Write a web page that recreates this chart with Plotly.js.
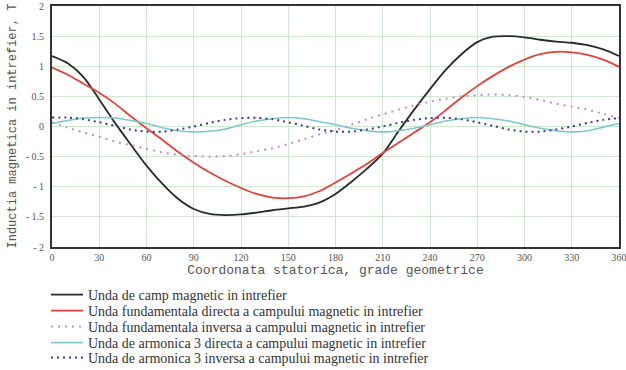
<!DOCTYPE html>
<html>
<head>
<meta charset="utf-8">
<script src="https://cdn.plot.ly/plotly-3.0.1.min.js"></script>
<style>
html,body{margin:0;padding:0;background:#fff;}
#chart{width:626px;height:370px;}
</style>
</head>
<body>
<div id="chart"></div>
<script>
// Angle (degrees) sampled every 10°
const angle = [0,10,20,30,40,50,60,70,80,90,100,110,120,130,140,150,160,170,180,190,200,210,220,230,240,250,260,270,280,290,300,310,320,330,340,350,360];

// Total air-gap field
const campTotal = [1.17,1.05,0.82,0.45,0.06,-0.30,-0.65,-0.95,-1.20,-1.37,-1.45,-1.47,-1.46,-1.43,-1.39,-1.36,-1.33,-1.26,-1.12,-0.92,-0.70,-0.45,-0.08,0.28,0.62,0.94,1.20,1.40,1.49,1.50,1.48,1.44,1.41,1.39,1.35,1.28,1.17];

// Fundamental, direct
const fundDirecta = [0.98,0.86,0.71,0.56,0.38,0.17,-0.03,-0.22,-0.42,-0.60,-0.76,-0.90,-1.02,-1.12,-1.18,-1.19,-1.16,-1.07,-0.93,-0.78,-0.62,-0.44,-0.27,-0.10,0.07,0.27,0.48,0.67,0.84,0.99,1.11,1.20,1.24,1.23,1.19,1.11,0.99];

// Fundamental, inverse
const fundInversa = [0.07,-0.02,-0.10,-0.17,-0.25,-0.31,-0.37,-0.43,-0.47,-0.49,-0.50,-0.49,-0.46,-0.41,-0.36,-0.29,-0.21,-0.13,-0.06,0.03,0.12,0.20,0.28,0.35,0.41,0.46,0.50,0.52,0.53,0.52,0.49,0.44,0.38,0.33,0.28,0.21,0.14];

// 3rd harmonic, direct
const arm3Directa = [0.05,0.10,0.14,0.15,0.14,0.10,0.05,-0.02,-0.07,-0.09,-0.08,-0.04,0.03,0.09,0.13,0.15,0.13,0.08,0.03,-0.03,-0.07,-0.09,-0.07,-0.03,0.03,0.09,0.13,0.15,0.13,0.09,0.03,-0.03,-0.07,-0.09,-0.07,-0.01,0.05];

// 3rd harmonic, inverse
const arm3Inversa = [0.148,0.147,0.12,0.07,0.01,-0.05,-0.085,-0.085,-0.05,0.00,0.06,0.11,0.14,0.145,0.12,0.07,0.01,-0.05,-0.085,-0.085,-0.05,0.00,0.06,0.11,0.14,0.145,0.12,0.07,0.01,-0.05,-0.085,-0.085,-0.05,0.00,0.06,0.11,0.14];

const seriesNames = [
  "Unda de camp magnetic in intrefier",
  "Unda fundamentala directa a campului magnetic in intrefier",
  "Unda fundamentala inversa a campului magnetic in intrefier",
  "Unda de armonica 3 directa a campului magnetic in intrefier",
  "Unda de armonica 3 inversa a campului magnetic in intrefier"
];

const xTicks = [0,30,60,90,120,150,180,210,240,270,300,330,360];
const yTicks = [-2,-1.5,-1,-0.5,0,0.5,1,1.5,2];
const yTickText = ["- 2","- 1.5","- 1","- 0.5","0","0.5","1","1.5","2"];
const xTitle = "Coordonata statorica, grade geometrice";
const yTitle = "Inductia magnetica in intrefier, T";

const legendFont = {family:"Liberation Serif, Times New Roman, serif", size:14, color:"#333"};
const legendRowsY = [295, 311, 327, 343, 358];

function mk(y, name, color, dash, width, lg){
  return {x: angle, y: y, name: name, type:"scatter", mode:"lines",
    line:{color:color, width:width, dash:dash, shape:"spline", smoothing:0.8},
    legend: lg};
}

const traces = [
  mk(campTotal, seriesNames[0], "#2a2a2a", "solid", 1.8, "legend"),
  mk(fundDirecta, seriesNames[1], "#e2413c", "solid", 1.8, "legend2"),
  mk(fundInversa, seriesNames[2], "#c98ac9", "2px,5px", 2, "legend3"),
  mk(arm3Directa, seriesNames[3], "#7cc8cc", "solid", 1.6, "legend4"),
  mk(arm3Inversa, seriesNames[4], "#3c3c8c", "2px,4px", 2, "legend5")
];

function lg(i){
  return {xref:"container", yref:"container", x: 46/626, y: 1 - legendRowsY[i]/370,
    xanchor:"left", yanchor:"middle", bgcolor:"rgba(0,0,0,0)", borderwidth:0,
    font: legendFont, tracegroupgap:0, itemwidth:32};
}

const layout = {
  width:626, height:370,
  margin:{l:52, r:7, t:6, b:123, pad:0, autoexpand:false},
  paper_bgcolor:"#fff", plot_bgcolor:"#fff",
  showlegend:true,
  legend: lg(0), legend2: lg(1), legend3: lg(2), legend4: lg(3), legend5: lg(4),
  xaxis:{
    range:[0,360], tickvals:xTicks, ticktext:xTicks.map(String),
    showgrid:true, gridcolor:"#cfe8cf", gridwidth:1,
    zeroline:false, showline:true, linecolor:"#333", linewidth:2, mirror:true,
    ticks:"", ticklabeloverflow:"allow",
    tickfont:{family:"Liberation Serif, Times New Roman, serif", size:10, color:"#555"},
    title:{text:xTitle, standoff:2,
      font:{family:"Liberation Mono, Courier New, monospace", size:13, color:"#555"}},
    automargin:false, fixedrange:true
  },
  yaxis:{
    range:[-2,2], tickvals:yTicks, ticktext:yTickText,
    showgrid:true, gridcolor:"#cfe8cf", gridwidth:1,
    zeroline:false, showline:true, linecolor:"#333", linewidth:2, mirror:true,
    ticks:"", ticklabelstandoff:4,
    tickfont:{family:"Liberation Serif, Times New Roman, serif", size:10, color:"#555"},
    automargin:false, fixedrange:true
  },
  annotations:[{
    text: yTitle, xref:"paper", yref:"paper", x:(12-52)/567, y:0.5,
    xanchor:"center", yanchor:"middle", textangle:-90, showarrow:false,
    font:{family:"Liberation Mono, Courier New, monospace", size:12, color:"#555"}
  }]
};

Plotly.newPlot("chart", traces, layout, {staticPlot:true, displayModeBar:false});
</script>
</body>
</html>
